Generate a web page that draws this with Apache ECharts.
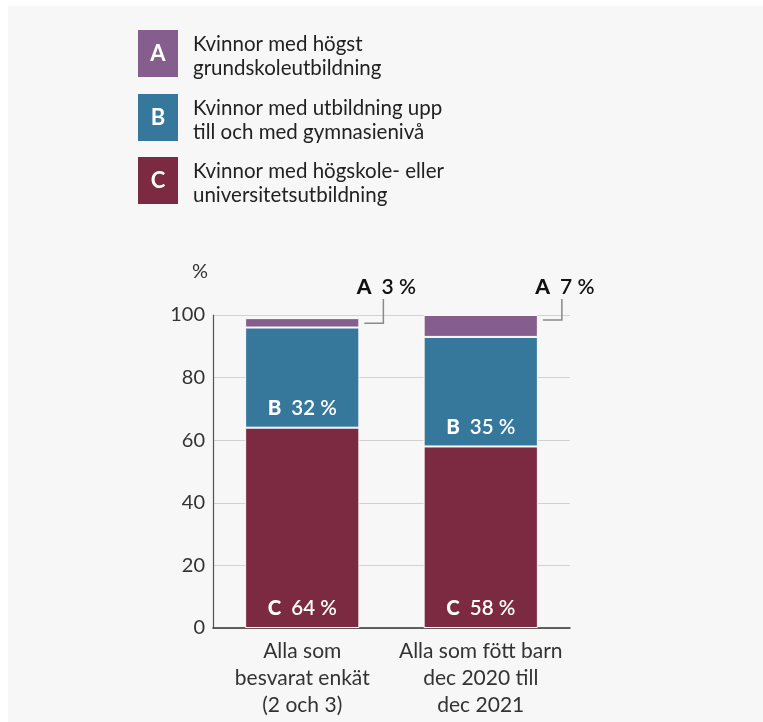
<!DOCTYPE html>
<html>
<head>
<meta charset="utf-8">
<script src="https://cdn.jsdelivr.net/npm/echarts@6/dist/echarts.min.js"></script>
<style>
html,body{margin:0;padding:0;background:#ffffff;}
#chart{width:763px;height:722px;}
</style>
</head>
<body>
<div id="chart"></div>
<script>
// ---- data ----
const categories = ['Alla som\nbesvarat enkät\n(2 och 3)', 'Alla som fött barn\ndec 2020 till\ndec 2021'];
const valuesC = [64, 58];
const valuesB = [32, 35];
const valuesA = [3, 7];
const yTicks = [0, 20, 40, 60, 80, 100];
const seriesLetters = ['A', 'B', 'C'];
const legendTexts = [
  'Kvinnor med högst\ngrundskoleutbildning',
  'Kvinnor med utbildning upp\ntill och med gymnasienivå',
  'Kvinnor med högskole- eller\nuniversitetsutbildning'
];
const colors = { A: '#855e8d', B: '#36779c', C: '#7b2a41' };

const FONT = 'Lato, "Open Sans", sans-serif';
const barWidthRatio = 0.64;

const chart = echarts.init(document.getElementById('chart'), null, { renderer: 'canvas' });

function insideLabel(letter) {
  return {
    show: true,
    position: 'insideBottom',
    distance: 9,
    formatter: function (p) { return '{l|' + letter + '}   {v|' + p.value + ' %}'; },
    rich: {
      l: { fontFamily: FONT, fontSize: 20.5, fontWeight: 900, color: '#fff' },
      v: { fontFamily: FONT, fontSize: 20.5, fontWeight: 600, color: '#fff' }
    }
  };
}

// legend graphics
const legendGraphics = [];
const legendY = [30, 94, 157];
seriesLetters.forEach(function (L, i) {
  legendGraphics.push({
    type: 'rect', left: 138, top: legendY[i],
    shape: { width: 40, height: 47 },
    style: { fill: colors[L] }
  });
  legendGraphics.push({
    type: 'text', x: 158, y: legendY[i] + 24,
    style: { text: L, fill: '#fff', font: '700 22px ' + FONT, textAlign: 'center', textVerticalAlign: 'middle' }
  });
  legendGraphics.push({
    type: 'text', x: 193, y: legendY[i] + 26,
    style: { text: legendTexts[i], fill: '#222', font: '400 20.5px ' + FONT, lineHeight: 24, textAlign: 'left', textVerticalAlign: 'middle' }
  });
});

const aLabelData = valuesA.map(function (a, i) {
  return [i, valuesC[i] + valuesB[i] + valuesA[i], a];
});

const option = {
  backgroundColor: '#ffffff',
  animation: false,
  graphic: [
    { type: 'rect', left: 8, top: 6, z: -100, shape: { width: 755, height: 716 }, style: { fill: '#f7f7f7' } }
  ].concat(legendGraphics),
  grid: { left: 213, right: 193, top: 315, bottom: 94, containLabel: false },
  xAxis: {
    type: 'category',
    data: categories,
    axisLine: { show: true, lineStyle: { color: '#333', width: 1.5 } },
    axisTick: { show: false },
    axisLabel: { fontFamily: FONT, fontSize: 21, color: '#333', lineHeight: 27, margin: 10, interval: 0 }
  },
  yAxis: {
    type: 'value',
    min: 0, max: 100, interval: 20,
    name: '%',
    nameLocation: 'end',
    nameGap: 33,
    nameTextStyle: { fontFamily: FONT, fontSize: 20, color: '#333', align: 'right', padding: [0, 5, 0, 0] },
    axisLine: { show: true, lineStyle: { color: '#555', width: 1.2 } },
    axisTick: { show: false },
    splitLine: { show: true, lineStyle: { color: '#d2d2d2', width: 1.2 } },
    axisLabel: {
      fontFamily: FONT, fontSize: 20, color: '#333', margin: 8,
      formatter: function (v) { return yTicks.indexOf(v) >= 0 ? String(v) : ''; }
    }
  },
  series: [
    {
      name: 'C', type: 'bar', stack: 'total', data: valuesC, barWidth: (barWidthRatio * 100) + '%',
      itemStyle: { color: colors.C, borderColor: '#fbfbfb', borderWidth: 1 },
      label: insideLabel('C')
    },
    {
      name: 'B', type: 'bar', stack: 'total', data: valuesB,
      itemStyle: { color: colors.B, borderColor: '#fbfbfb', borderWidth: 1 },
      label: insideLabel('B')
    },
    {
      name: 'A', type: 'bar', stack: 'total', data: valuesA,
      itemStyle: { color: colors.A, borderColor: '#fbfbfb', borderWidth: 1 },
      label: { show: false }
    },
    {
      name: 'A-label', type: 'custom', data: aLabelData, clip: false, z: 10,
      renderItem: function (params, api) {
        const idx = api.value(0);
        const top = api.value(1);
        const a = api.value(2);
        const center = api.coord([idx, top - 1.6]);
        const yMax = api.coord([idx, 100])[1];
        const bw = api.size([1, 0])[0] * barWidthRatio;
        const right = center[0] + bw / 2;
        const ex = right + 24;
        return {
          type: 'group',
          children: [
            {
              type: 'polyline',
              shape: { points: [[right + 5, center[1]], [ex, center[1]], [ex, yMax - 16]] },
              style: { stroke: '#8a8a8a', lineWidth: 1.5, fill: null }
            },
            {
              type: 'text',
              x: ex + 3, y: yMax - 28,
              style: {
                text: '{l|A}   {v|' + a + ' %}',
                textAlign: 'center', textVerticalAlign: 'middle',
                rich: {
                  l: { fontFamily: FONT, fontSize: 21, fontWeight: 900, fill: '#111' },
                  v: { fontFamily: FONT, fontSize: 21, fontWeight: 600, fill: '#111' }
                }
              }
            }
          ]
        };
      }
    }
  ]
};

chart.setOption(option);
</script>
</body>
</html>
